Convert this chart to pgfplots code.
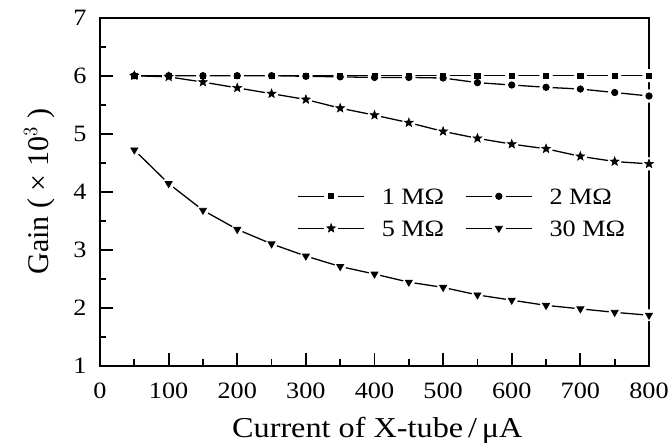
\documentclass[border=0pt]{standalone}
\usepackage{fontspec}
\setmainfont{Liberation Serif}[FakeStretch=1.12]
\usepackage{graphicx}
\usepackage{pgfplots}
\usepackage{pgfplotstable}
\pgfplotsset{compat=1.18}

% gain vs X-tube current, one column per load resistor
\pgfplotstableread{
x    r1   r2    r5    r30
50   6.00 6.00  6.00  4.72
100  6.00 6.00  5.98  4.14
150  6.00 6.00  5.89  3.68
200  6.00 6.00  5.79  3.35
250  6.00 6.00  5.69  3.10
300  6.00 5.99  5.59  2.89
350  6.00 5.98  5.44  2.71
400  6.00 5.97  5.32  2.58
450  6.00 5.97  5.19  2.44
500  6.00 5.96  5.04  2.35
550  6.00 5.88  4.92  2.22
600  6.00 5.84  4.82  2.13
650  6.00 5.80  4.74  2.04
700  6.00 5.77  4.61  1.98
750  6.00 5.71  4.52  1.92
800  6.00 5.65  4.48  1.87
}\gaintab

% filled five-pointed star
\pgfdeclareplotmark{fstar}{%
  \pgfpathmoveto{\pgfpointpolar{90}{\pgfplotmarksize}}%
  \pgfpathlineto{\pgfpointpolar{126}{0.42\pgfplotmarksize}}%
  \pgfpathlineto{\pgfpointpolar{162}{\pgfplotmarksize}}%
  \pgfpathlineto{\pgfpointpolar{198}{0.42\pgfplotmarksize}}%
  \pgfpathlineto{\pgfpointpolar{234}{\pgfplotmarksize}}%
  \pgfpathlineto{\pgfpointpolar{270}{0.42\pgfplotmarksize}}%
  \pgfpathlineto{\pgfpointpolar{306}{\pgfplotmarksize}}%
  \pgfpathlineto{\pgfpointpolar{342}{0.42\pgfplotmarksize}}%
  \pgfpathlineto{\pgfpointpolar{18}{\pgfplotmarksize}}%
  \pgfpathlineto{\pgfpointpolar{54}{0.42\pgfplotmarksize}}%
  \pgfpathclose
  \pgfusepathqfillstroke
}

\pgfplotsset{
  gapline/.style={black, line width=0.65pt, no marks, forget plot},
  gaphole/.style={white, only marks, mark=*, mark size=3.1pt, forget plot},
  gapmark/.style={black, only marks, mark options={solid, black}},
}

\begin{document}
\begin{tikzpicture}
\useasboundingbox (0,0) rectangle (335.5pt,221.5pt);
\begin{axis}[
  at={(50pt,38.65pt)}, anchor=south west,
  scale only axis, width=274.5pt, height=174pt,
  xmin=0, xmax=800, ymin=1, ymax=7,
  xtick={0,100,...,800}, minor xtick={50,150,...,750},
  ytick={1,...,7}, minor ytick={1.5,2.5,...,6.5},
  tick pos=left, tick align=inside,
  major tick length=6.5pt, minor tick length=3.2pt,
  axis line style={line width=1pt},
  every tick/.style={black, line width=0.9pt},
  /pgf/number format/assume math mode=true,
  ticklabel style={font=\fontsize{11.7}{13}\selectfont, inner sep=0pt},
  xticklabel style={anchor=north, yshift=-8.5pt},
  yticklabel style={anchor=east, xshift=-6.5pt},
  xlabel={Current of X-tube\,/\,μA},
  ylabel={\scalebox{1}[1.12]{\fontsize{13.4}{15}\selectfont Gain ( × 10$^{3}$ )}},
  label style={font=\fontsize{14.4}{16}\selectfont},
  xlabel style={at={(axis description cs:0.505,0)}, anchor=base, yshift=-36pt},
  ylabel style={at={(axis description cs:-0.093,0.50)}, anchor=base},
  legend columns=2,
  legend style={draw=none, fill=none, inner sep=0pt,
    at={(0.359,0.511)}, anchor=north west,
    font=\fontsize{11.7}{13}\selectfont,
    nodes={inner sep=0pt, text height=8pt, text depth=0pt},
    row sep=8pt,
    /tikz/every odd column/.append style={column sep=8.5pt},
    /tikz/every even column/.append style={column sep=10.5pt}},
  legend cell align=left,
  legend image code/.code={
    \draw[black, line width=0.65pt, solid] (0pt,0pt) -- (13pt,0pt)
      (20pt,0pt) -- (33pt,0pt);
    \draw[mark repeat=1] plot coordinates {(16.5pt,0pt)};
  },
]
\addplot[gapline] table[x=x, y=r1] {\gaintab};
\addplot[gapline] table[x=x, y=r2] {\gaintab};
\addplot[gapline] table[x=x, y=r5] {\gaintab};
\addplot[gapline] table[x=x, y=r30] {\gaintab};

\addplot[gaphole] table[x=x, y=r1] {\gaintab};
\addplot[gaphole] table[x=x, y=r2] {\gaintab};
\addplot[gaphole] table[x=x, y=r5] {\gaintab};
\addplot[gaphole, mark size=2.8pt] table[x=x, y=r30] {\gaintab};

\addplot[gapmark, mark=square*, mark size=1.3pt] table[x=x, y=r1] {\gaintab};
\addlegendentry{1 MΩ}
\addplot[gapmark, mark=*, mark size=1.6pt] table[x=x, y=r2] {\gaintab};
\addlegendentry{2 MΩ}
\addplot[gapmark, mark=fstar, mark size=2.3pt, mark options={fill=black, line width=0.3pt}] table[x=x, y=r5] {\gaintab};
\addlegendentry{5 MΩ}
\addplot[gapmark, mark=triangle*, mark size=2pt, mark options={rotate=180}] table[x=x, y=r30] {\gaintab};
\addlegendentry{30 MΩ}
\end{axis}
\end{tikzpicture}
\end{document}
